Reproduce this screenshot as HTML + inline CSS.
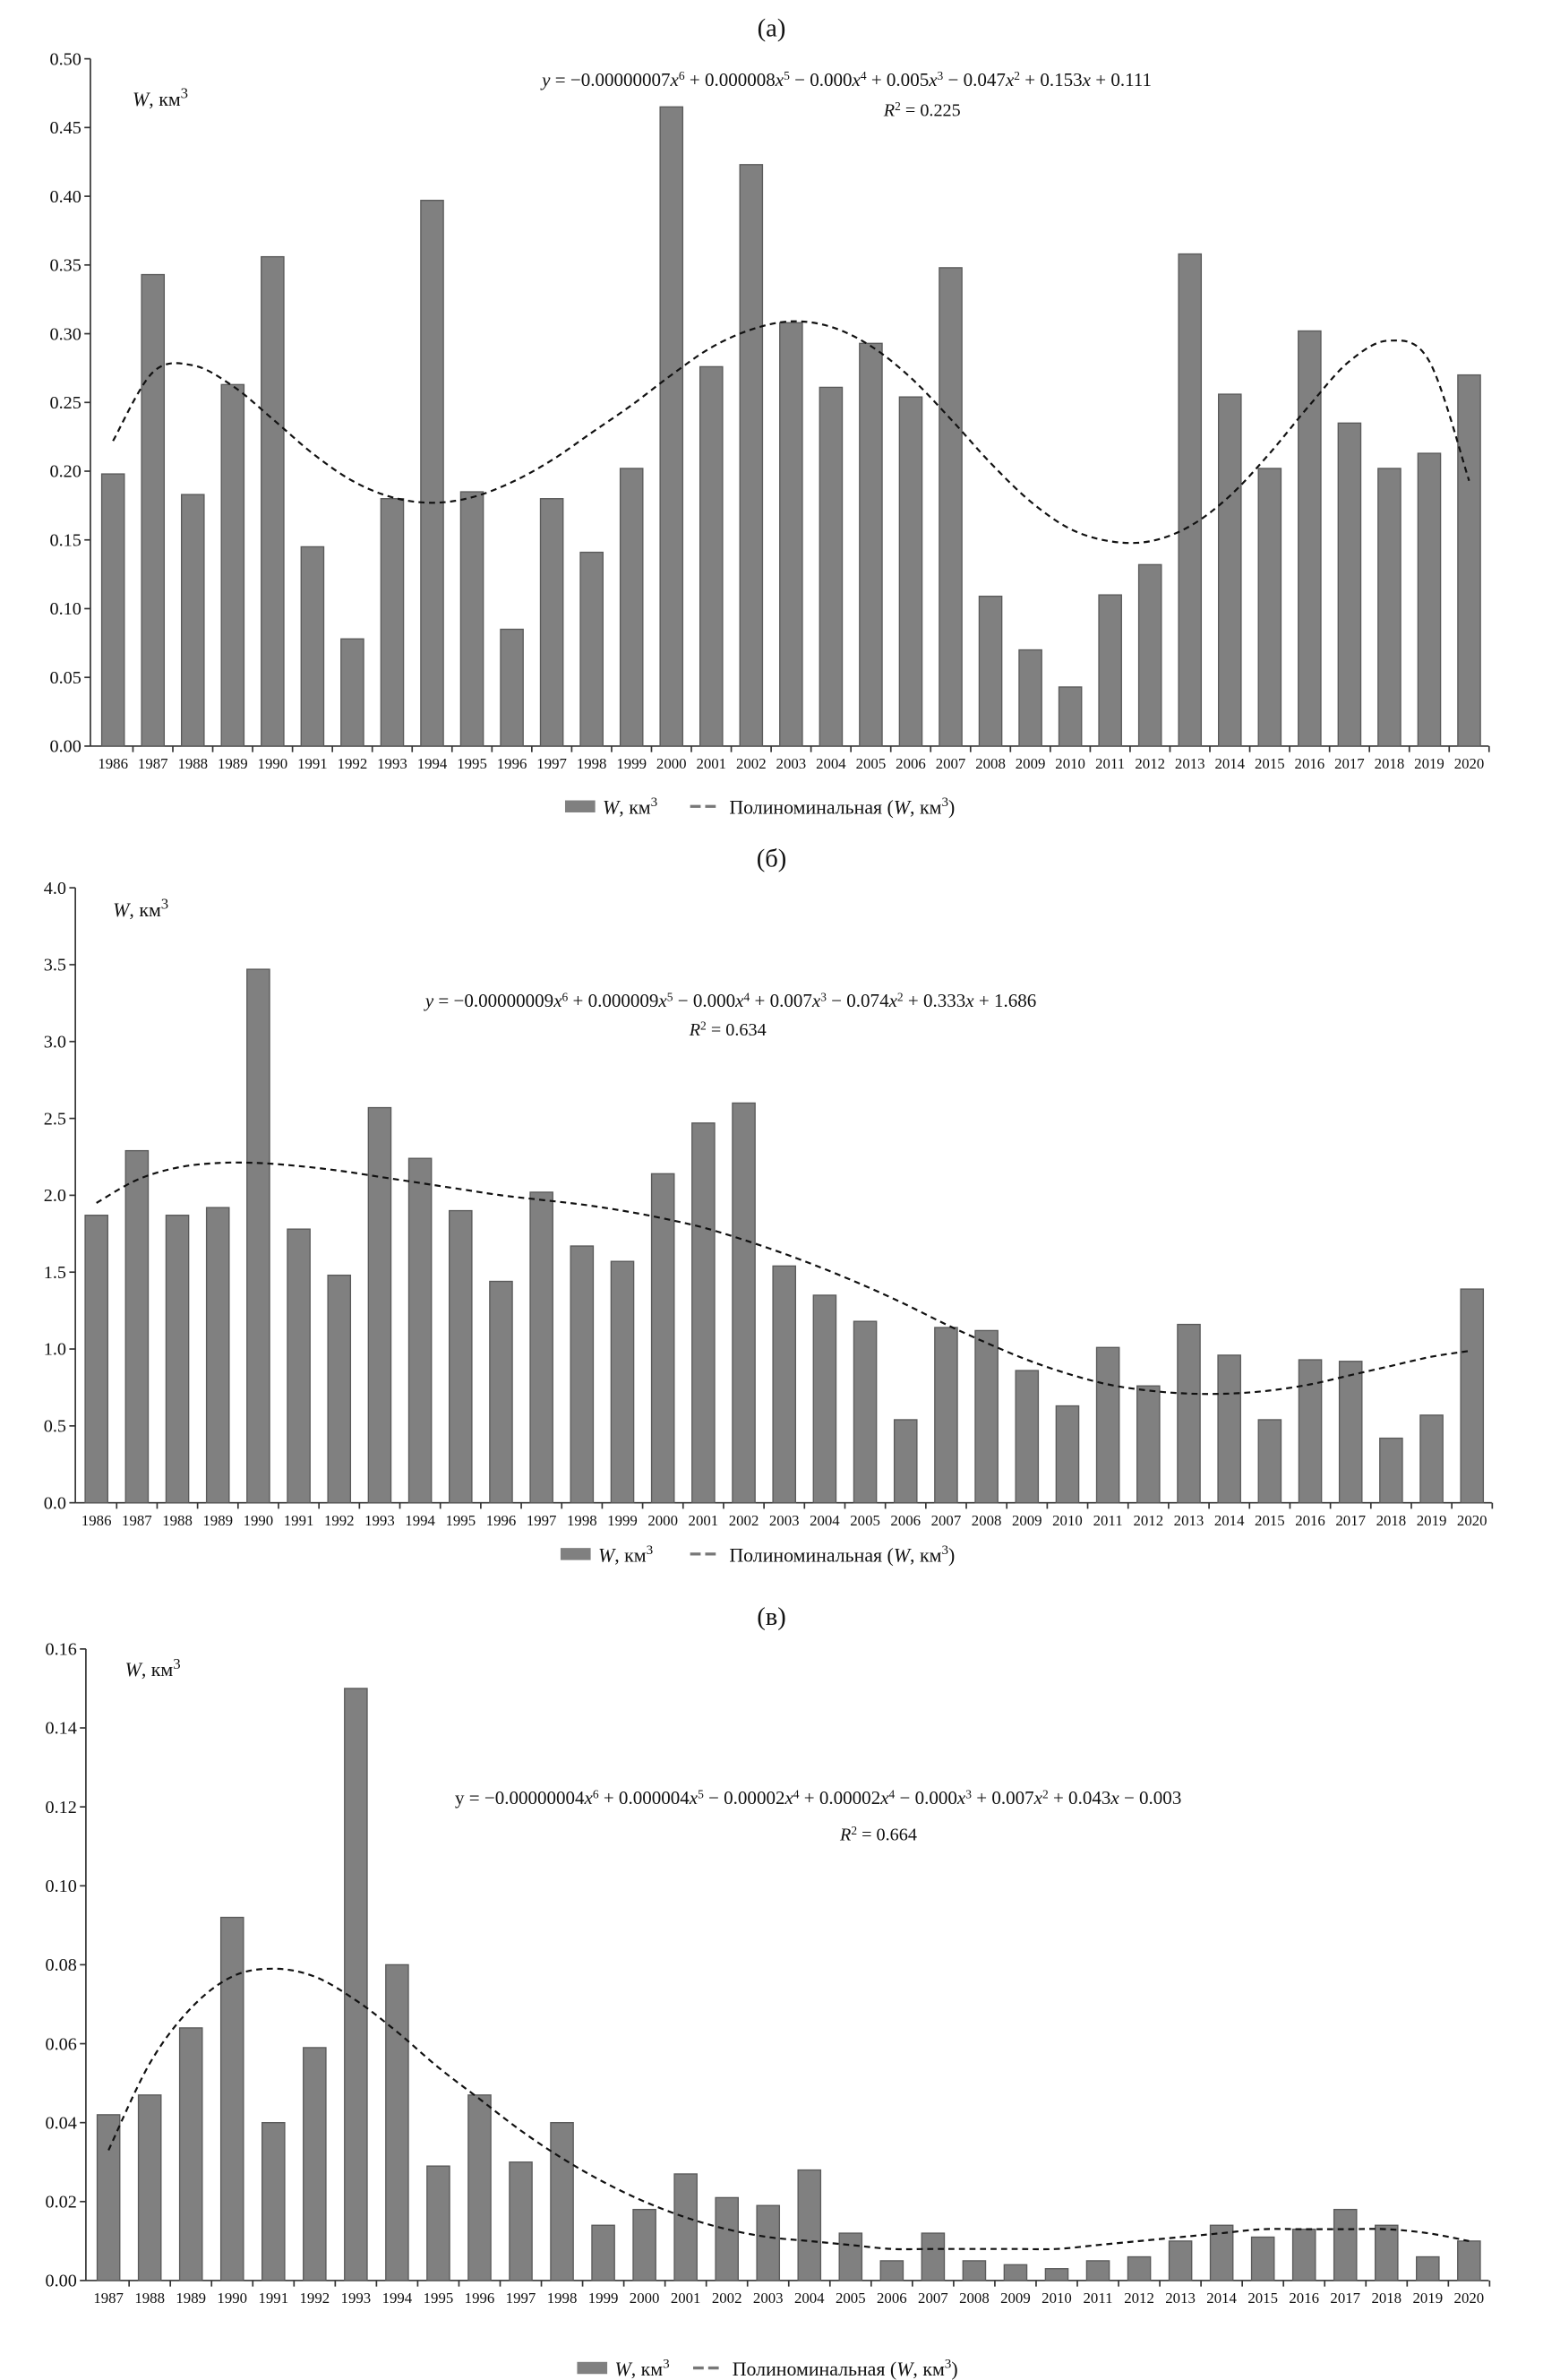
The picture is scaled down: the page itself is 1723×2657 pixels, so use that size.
<!DOCTYPE html>
<html><head><meta charset="utf-8">
<style>
html,body{margin:0;padding:0;background:#fff;}
svg{display:block;font-family:"Liberation Serif",serif;}
</style></head>
<body>
<svg id="c" width="1723" height="2657" viewBox="0 0 1024 1579" preserveAspectRatio="none" xmlns="http://www.w3.org/2000/svg"></svg>
<script>
const yearsA = [1986,1987,1988,1989,1990,1991,1992,1993,1994,1995,1996,1997,1998,1999,2000,2001,2002,2003,2004,2005,2006,2007,2008,2009,2010,2011,2012,2013,2014,2015,2016,2017,2018,2019,2020];
const valuesA = [0.198,0.343,0.183,0.263,0.356,0.145,0.078,0.180,0.397,0.185,0.085,0.180,0.141,0.202,0.465,0.276,0.423,0.308,0.261,0.293,0.254,0.348,0.109,0.070,0.043,0.110,0.132,0.358,0.256,0.202,0.302,0.235,0.202,0.213,0.270];
const trendA = [0.222,0.272,0.277,0.262,0.238,0.213,0.193,0.181,0.177,0.181,0.192,0.208,0.228,0.248,0.270,0.290,0.303,0.309,0.305,0.291,0.268,0.238,0.206,0.178,0.158,0.149,0.149,0.160,0.182,0.213,0.248,0.280,0.295,0.280,0.193];
const ticksA = ["0.00","0.05","0.10","0.15","0.20","0.25","0.30","0.35","0.40","0.45","0.50"];

const yearsB = yearsA.slice();
const valuesB = [1.87,2.29,1.87,1.92,3.47,1.78,1.48,2.57,2.24,1.90,1.44,2.02,1.67,1.57,2.14,2.47,2.60,1.54,1.35,1.18,0.54,1.14,1.12,0.86,0.63,1.01,0.76,1.16,0.96,0.54,0.93,0.92,0.42,0.57,1.39];
const trendB = [1.95,2.10,2.18,2.21,2.21,2.19,2.16,2.12,2.08,2.04,2.00,1.97,1.94,1.90,1.85,1.79,1.71,1.62,1.52,1.41,1.29,1.16,1.04,0.93,0.84,0.77,0.73,0.71,0.71,0.73,0.77,0.83,0.89,0.95,0.99];
const ticksB = ["0.0","0.5","1.0","1.5","2.0","2.5","3.0","3.5","4.0"];

const yearsC = yearsA.slice(1);
const valuesC = [0.042,0.047,0.064,0.092,0.040,0.059,0.150,0.080,0.029,0.047,0.030,0.040,0.014,0.018,0.027,0.021,0.019,0.028,0.012,0.005,0.012,0.005,0.004,0.003,0.005,0.006,0.010,0.014,0.011,0.013,0.018,0.014,0.006,0.010];
const trendC = [0.033,0.055,0.069,0.077,0.079,0.077,0.071,0.063,0.054,0.046,0.038,0.031,0.025,0.020,0.016,0.013,0.011,0.010,0.009,0.008,0.008,0.008,0.008,0.008,0.009,0.010,0.011,0.012,0.013,0.013,0.013,0.013,0.012,0.010];
const ticksC = ["0.00","0.02","0.04","0.06","0.08","0.10","0.12","0.14","0.16"];

const NS="http://www.w3.org/2000/svg";
const svg=document.getElementById('c');
function mk(tag,attrs,parent){const e=document.createElementNS(NS,tag);for(const k in attrs)e.setAttribute(k,attrs[k]);(parent||svg).appendChild(e);return e;}
function txt(x,y,s,size,anchor,parent){const t=mk('text',{x:x,y:y,'font-size':size,'text-anchor':anchor||'middle',fill:'#111'},parent);t.innerHTML=s;return t;}

function drawChart(cfg){
  const g=mk('g',{});
  
  
  const ymax=parseFloat(cfg.ticks[cfg.ticks.length-1]);
  const Y=v=>cfg.y0-(v/ymax)*(cfg.y0-cfg.ytop);
  const X=i=>cfg.x0+i*cfg.dx;
  const t=txt(512,cfg.titleY,cfg.title,17,'middle',g);
  
  
  const ya=mk('line',{x1:cfg.axisX,y1:cfg.ytop,x2:cfg.axisX,y2:cfg.y0,stroke:'#333','stroke-width':1},g);
  
  
  cfg.ticks.forEach(s=>{
    const v=parseFloat(s);const y=Y(v);
    mk('line',{x1:cfg.axisX-4,y1:y,x2:cfg.axisX,y2:y,stroke:'#333'},g);
    const l=txt(cfg.axisX-6,y+4,s,12,'end',g);
    
    
  });
  const xa=mk('line',{x1:cfg.axisX,y1:cfg.y0,x2:cfg.xend,y2:cfg.y0,stroke:'#333'},g);
  
  
  cfg.values.forEach((v,i)=>{
    const x=X(i);
    const r=mk('rect',{x:x-cfg.bw/2,y:Y(v),width:cfg.bw,height:cfg.y0-Y(v),fill:'#808080',stroke:'#5a5a5a','stroke-width':0.8},g);
    
    
    mk('line',{x1:x+cfg.dx/2,y1:cfg.y0,x2:x+cfg.dx/2,y2:cfg.y0+4,stroke:'#333'},g);
    const l=txt(x,cfg.y0+15,String(cfg.years[i]),10,'middle',g);
    
    
  });
  const pts=cfg.trend.map((v,i)=>[X(i),Y(v)]);
  let d='M'+pts[0][0]+','+pts[0][1];
  for(let i=0;i<pts.length-1;i++){
    const p0=pts[Math.max(i-1,0)],p1=pts[i],p2=pts[i+1],p3=pts[Math.min(i+2,pts.length-1)];
    const c1=[p1[0]+(p2[0]-p0[0])/6,p1[1]+(p2[1]-p0[1])/6];
    const c2=[p2[0]-(p3[0]-p1[0])/6,p2[1]-(p3[1]-p1[1])/6];
    d+=' C'+c1[0]+','+c1[1]+' '+c2[0]+','+c2[1]+' '+p2[0]+','+p2[1];
  }
  const tl=mk('path',{d:d,fill:'none',stroke:'#111','stroke-width':1.3,'stroke-dasharray':'4,3'},g);
  
  
  const u=txt(cfg.unit[0],cfg.unit[1],'<tspan font-style="italic">W</tspan>, км<tspan dy="-5" font-size="10">3</tspan>',13,'start',g);
  
  
  const e=txt(cfg.eq[0],cfg.eq[1],cfg.eqText,12.5,'middle',g);
  
  
  const r2=txt(cfg.r2[0],cfg.r2[1],'<tspan font-style="italic">R</tspan><tspan dy="-4" font-size="8">2</tspan><tspan dy="4"> = '+cfg.r2val+'</tspan>',12,'middle',g);
  
  
  const lg=mk('g',{},g);
  
  
  const L=cfg.legend;
  mk('rect',{x:L.sq,y:L.y-9,width:20,height:8,fill:'#808080'},lg);
  const le1=txt(L.sq+25,L.y,'<tspan font-style="italic">W</tspan>, км<tspan dy="-5" font-size="9">3</tspan>',13,'start',lg);
  
  
  mk('line',{x1:L.dash,y1:L.y-5,x2:L.dash+20,y2:L.y-5,stroke:'#777','stroke-width':2,'stroke-dasharray':'7,3'},lg);
  const le2=txt(L.dash+26,L.y,'Полиноминальная (<tspan font-style="italic">W</tspan>, км<tspan dy="-5" font-size="9">3</tspan><tspan dy="5">)</tspan>',13,'start',lg);
  
  
}

const sup=n=>'<tspan dy="-4" font-size="8">'+n+'</tspan><tspan dy="4">';
drawChart({name:'chart-a',title:'(а)',titleY:24,years:yearsA,values:valuesA,trend:trendA,ticks:ticksA,
  y0:495,ytop:39,x0:75,dx:26.47,bw:15,axisX:60,xend:988,unit:[88,70],
  eq:[562,57],eqText:'<tspan font-style="italic">y</tspan> = −0.00000007<tspan font-style="italic">x</tspan>'+sup(6)+' + 0.000008</tspan><tspan font-style="italic">x</tspan>'+sup(5)+' − 0.000</tspan><tspan font-style="italic">x</tspan>'+sup(4)+' + 0.005</tspan><tspan font-style="italic">x</tspan>'+sup(3)+' − 0.047</tspan><tspan font-style="italic">x</tspan>'+sup(2)+' + 0.153</tspan><tspan font-style="italic">x</tspan> + 0.111',
  r2:[612,77],r2val:'0.225',legend:{sq:375,dash:458,y:540}});
drawChart({name:'chart-b',title:'(б)',titleY:575,years:yearsB,values:valuesB,trend:trendB,ticks:ticksB,
  y0:997,ytop:589,x0:64,dx:26.85,bw:15,axisX:50,xend:990,unit:[75,608],
  eq:[485,668],eqText:'<tspan font-style="italic">y</tspan> = −0.00000009<tspan font-style="italic">x</tspan>'+sup(6)+' + 0.000009</tspan><tspan font-style="italic">x</tspan>'+sup(5)+' − 0.000</tspan><tspan font-style="italic">x</tspan>'+sup(4)+' + 0.007</tspan><tspan font-style="italic">x</tspan>'+sup(3)+' − 0.074</tspan><tspan font-style="italic">x</tspan>'+sup(2)+' + 0.333</tspan><tspan font-style="italic">x</tspan> + 1.686',
  r2:[483,687],r2val:'0.634',legend:{sq:372,dash:458,y:1036}});
drawChart({name:'chart-c',title:'(в)',titleY:1078,years:yearsC,values:valuesC,trend:trendC,ticks:ticksC,
  y0:1513,ytop:1094,x0:72,dx:27.36,bw:15,axisX:57,xend:988,unit:[83,1112],
  eq:[543,1197],eqText:'y = −0.00000004<tspan font-style="italic">x</tspan>'+sup(6)+' + 0.000004</tspan><tspan font-style="italic">x</tspan>'+sup(5)+' − 0.00002</tspan><tspan font-style="italic">x</tspan>'+sup(4)+' + 0.00002</tspan><tspan font-style="italic">x</tspan>'+sup(4)+' − 0.000</tspan><tspan font-style="italic">x</tspan>'+sup(3)+' + 0.007</tspan><tspan font-style="italic">x</tspan>'+sup(2)+' + 0.043</tspan><tspan font-style="italic">x</tspan> − 0.003',
  r2:[583,1221],r2val:'0.664',legend:{sq:383,dash:460,y:1576}});
</script>
</body></html>
